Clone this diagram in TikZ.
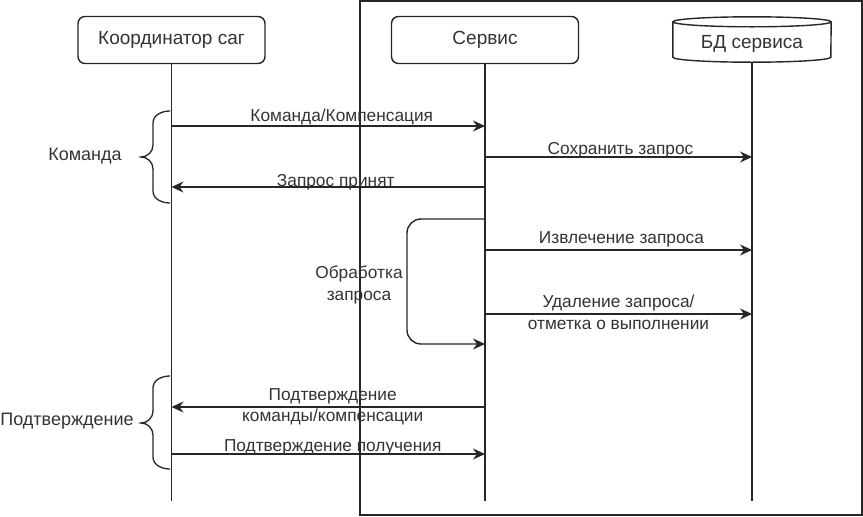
\documentclass[tikz,border=0pt]{standalone}
\usepackage{fontspec}
\setmainfont{Liberation Sans}
\usepackage{tikz}
\usetikzlibrary{arrows.meta}
\definecolor{linegray}{rgb}{0.15, 0.15, 0.15}
\definecolor{textgray}{rgb}{0.2, 0.2, 0.2}

\begin{document}
\begin{tikzpicture}[x=1pt, y=-1pt,
    every node/.style={font=\fontsize{17.3}{21.5}\selectfont, text=textgray},
    actor/.style={draw=linegray, line width=1.4pt, rounded corners=7pt,
        minimum width=187pt, minimum height=47pt, font=\fontsize{19}{22}\selectfont},
    dbase/.style={minimum width=158pt, minimum height=36pt, font=\fontsize{19}{22}\selectfont},
    life/.style={draw=linegray, line width=1.4pt},
    msg/.style={draw=linegray, line width=1.4pt, -{Stealth[length=12pt, width=11pt, inset=4pt]}},
    lbl/.style={inner sep=1pt, text height=12.5pt, text depth=3.5pt},
    side/.style={font=\fontsize{18}{22}\selectfont},
    bracket/.style={draw=linegray, line width=1.3pt}]
    \useasboundingbox (0,0) rectangle (863,517);

    % Service frame
    \draw[draw=linegray, line width=2pt] (360,1) rectangle (862,515);

    % Participants
    \node[actor] (coord) at (171.5,40) {Координатор саг};
    \node[actor] (srv) at (485,40) {Сервис};
    \node[dbase] (db) at (752,44) {БД сервиса};
    % cylinder outline of the database
    \draw[life] ([yshift=4pt]db.north west) -- ([yshift=5pt]db.south west)
        arc[start angle=180, end angle=360, x radius=79pt, y radius=5pt]
        -- ([yshift=4pt]db.north east);
    \draw[life] ([yshift=4pt]db.north) ellipse [x radius=79pt, y radius=5pt];

    % Lifelines
    \coordinate (bottom) at (0,501);
    \draw[life] (coord.south) -- (coord |- bottom);
    \draw[life] (srv.south) -- (srv |- bottom);
    \draw[life] (db.south) -- (db |- bottom);

    % Message rows
    \coordinate (m1) at (0,126);
    \coordinate (m2) at (0,157);
    \coordinate (m3) at (0,187);
    \coordinate (m4) at (0,250);
    \coordinate (m5) at (0,314);
    \coordinate (m6) at (0,407);
    \coordinate (m7) at (0,454);
    \coordinate (loopin) at (0,219);
    \coordinate (loopout) at (0,344);
    \coordinate (loopx) at (407,0);

    % Command
    \draw[msg] (coord |- m1) -- node[lbl, above=-0.5pt, xshift=13.5pt] (l1) {Команда/Компенсация} (srv |- m1);
    \draw[msg] (srv |- m2) -- node[lbl, above=-2.5pt, xshift=2pt] (l2) {Сохранить запрос} (db |- m2);
    \draw[msg] (srv |- m3) -- node[lbl, above=-5pt, xshift=7.5pt] (l3) {Запрос принят} (coord |- m3);

    % Processing
    \draw[msg, rounded corners=14pt] (srv |- loopin) -- (loopx |- loopin) -- (loopx |- loopout) -- (srv |- loopout);
    \node[align=center] (l4) at (359,285) {Обработка\\запроса};
    \draw[msg] (srv |- m4) -- node[lbl, above=1.5pt, xshift=3pt] (l5) {Извлечение запроса} (db |- m4);
    \draw[msg] (srv |- m5) -- node[align=center, yshift=1.5pt] (l6) {Удаление запроса/\\отметка о выполнении} (db |- m5);

    % Confirmation
    \draw[msg] (srv |- m6) -- node[align=center, xshift=4.5pt] (l7) {Подтверждение\\команды/компенсации} (coord |- m6);
    \draw[msg] (coord |- m7) -- node[lbl, above=-2.5pt, xshift=4.5pt] (l8) {Подтверждение получения} (srv |- m7);

    % Brackets
    \draw[bracket] (170,111) to[out=180, in=90] (153,123) -- (153,145)
        to[out=-90, in=0] (141,157) to[out=0, in=90] (153,169) -- (153,191)
        to[out=-90, in=180] (170,203);
    \node[side] (cmd) at (85,156) {Команда};
    \draw[bracket] (170,376) to[out=180, in=90] (153,388) -- (153,411)
        to[out=-90, in=0] (141,423) to[out=0, in=90] (153,435) -- (153,457)
        to[out=-90, in=180] (170,469);
    \node[side] (conf) at (67,421) {Подтверждение};
\end{tikzpicture}
\end{document}
